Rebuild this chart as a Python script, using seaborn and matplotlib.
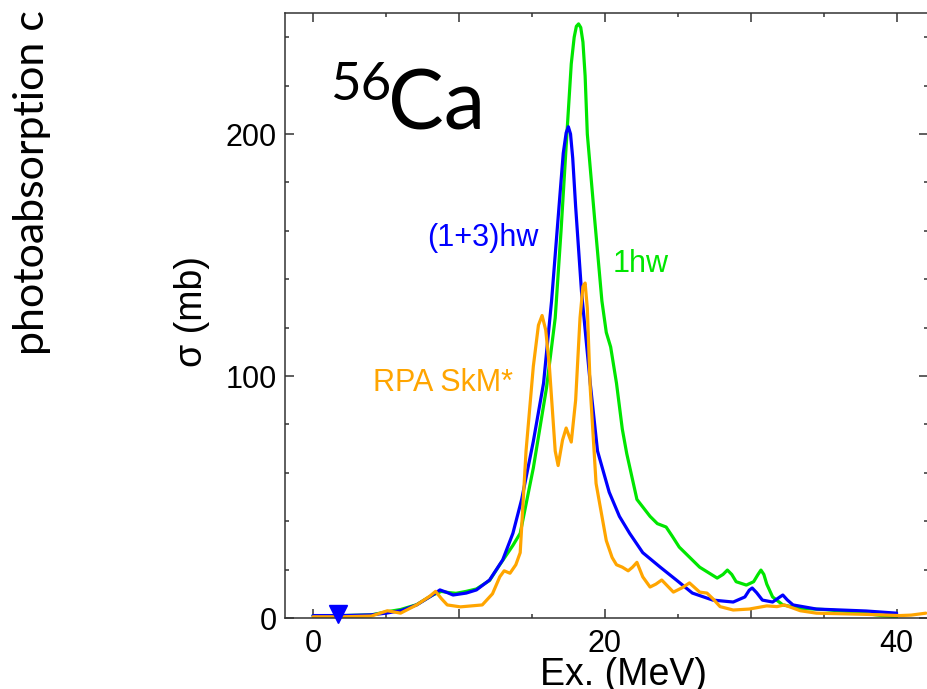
import numpy as np
import pandas as pd
import matplotlib
matplotlib.use("Agg")
import matplotlib.pyplot as plt
import seaborn as sns

# ---- data ----
green_x = [0, 2, 4, 5, 6, 7.1, 8.2, 8.8, 9.3, 9.8, 10.5, 11.2, 12.1, 12.8, 13.7, 14.2, 15.1, 16.0,
           16.6, 17.0, 17.4, 17.7, 17.9, 18.05, 18.2, 18.35, 18.5, 18.65, 18.8, 19.3, 19.8, 20.1, 20.4,
           20.8, 21.2, 21.5, 22.2, 23.1, 23.6, 24.2, 24.6, 25.1, 26.5, 27.7, 28.1, 28.4, 28.7, 29.0,
           29.7, 30.2, 30.5, 30.7, 30.9, 31.1, 31.5, 32.2, 33.4, 35.0, 37.0, 39.0, 40.0]
green_y = [1.0, 1.0, 1.3, 2.5, 3.5, 5.5, 9.5, 11.0, 10.5, 10.2, 11.0, 12.0, 15.5, 22.0, 30.0, 35.0, 62.0, 95.0,
           124.0, 160.0, 200.0, 229.0, 240.0, 244.5, 245.5, 244.0, 238.0, 224.0, 200.0, 165.0, 131.0, 118.0, 112.0,
           97.0, 78.0, 68.0, 49.0, 42.0, 39.0, 37.6, 34.0, 29.3, 21.0, 16.5, 18.0, 19.8, 18.0, 15.0,
           13.6, 15.0, 18.0, 19.8, 18.0, 14.0, 8.7, 5.4, 4.0, 3.5, 2.5, 1.0, 0.5]

blue_x = [0, 2, 4, 5, 6, 7.1, 8.2, 8.7, 9.2, 9.6, 10.5, 11.2, 12.1, 13.0, 13.7, 14.3, 15.1, 15.8,
          16.35, 16.9, 17.15, 17.35, 17.5, 17.65, 17.8, 18.0, 18.4, 19.0, 19.5, 20.3, 21.0, 21.7, 22.6,
          23.8, 24.9, 26.0, 27.4, 28.8, 29.6, 29.9, 30.1, 30.4, 30.8, 31.5, 32.0, 32.2, 32.5, 32.9,
          34.5, 37.9, 40.0]
blue_y = [1.0, 1.0, 1.3, 2.0, 3.0, 5.4, 9.5, 11.6, 10.5, 9.5, 10.3, 11.6, 15.7, 24.0, 35.0, 49.0, 73.0, 97.0,
          131.0, 173.0, 192.0, 200.5, 203.0, 200.0, 190.0, 170.0, 135.0, 97.0, 69.0, 52.0, 42.0, 35.0, 27.0,
          21.0, 15.7, 10.3, 7.4, 6.6, 8.7, 11.5, 12.4, 10.5, 7.4, 6.6, 8.7, 9.5, 7.5, 5.4,
          3.7, 2.9, 2.0]

orange_x = [0, 2, 4, 5.1, 6.0, 7.1, 8.0, 8.4, 8.8, 9.2, 10.1, 11.6, 12.3, 12.8, 13.1, 13.5, 13.9, 14.2,
            14.6, 15.1, 15.45, 15.7, 15.95, 16.2, 16.6, 16.8, 17.1, 17.35, 17.7, 18.0, 18.3, 18.5, 18.65,
            18.8, 19.0, 19.4, 20.1, 20.5, 20.8, 21.2, 21.6, 21.9, 22.2, 22.6, 23.1, 23.5, 23.9, 24.7,
            25.3, 25.8, 26.5, 27.0, 27.4, 27.9, 28.8, 29.9, 31.1, 31.8, 32.3, 33.4, 34.5, 37.9, 40.2,
            41.0, 42.0]
orange_y = [0.5, 0.5, 0.8, 3.0, 2.0, 5.4, 9.0, 11.0, 8.0, 5.4, 4.6, 5.4, 10.0, 17.0, 19.5, 18.5, 22.0, 27.0,
            69.0, 104.0, 121.0, 125.0, 119.0, 104.0, 69.0, 63.0, 73.5, 78.5, 72.7, 90.0, 124.0, 137.0, 138.4,
            128.0, 95.0, 55.6, 32.0, 25.0, 22.0, 21.0, 19.5, 21.0, 23.0, 17.0, 12.8, 14.0, 15.7, 10.7,
            12.5, 14.5, 10.7, 10.3, 8.0, 4.7, 3.3, 3.7, 5.0, 4.7, 5.4, 3.0, 2.0, 1.5, 1.0,
            1.2, 2.0]

marker_x = [1.7]
marker_y = [1.65]

x_major = [0, 10, 20, 30, 40]
x_major_labels = ["0", "", "20", "", "40"]
y_major = [0, 100, 200]

series_labels = ["1hw", "(1+3)hw", "RPA SkM*"]
colors = ["#00e600", "#0000ff", "#ffa500"]

# ---- figure ----
sns.set_theme(style="ticks")
plt.rcParams["font.family"] = ["Liberation Sans", "DejaVu Sans"]
plt.rcParams["text.color"] = "black"
plt.rcParams["axes.labelcolor"] = "black"

W, H = 927, 689
fig = plt.figure(figsize=(W / 100, H / 100), dpi=100)
ax = fig.add_axes([285 / W, (H - 618) / H, 643 / W, 605 / H])

frames = []
for name, xs, ys in [(series_labels[0], green_x, green_y),
                     (series_labels[1], blue_x, blue_y),
                     (series_labels[2], orange_x, orange_y)]:
    frames.append(pd.DataFrame({"E": xs, "sigma": ys, "model": name}))
df = pd.concat(frames, ignore_index=True)

for name, col in zip(series_labels, colors):
    sub = df[df["model"] == name]
    sns.lineplot(data=sub, x="E", y="sigma", color=col, lw=2.3, ax=ax,
                 sort=False, estimator=None, legend=False)

ax.plot(marker_x, marker_y, marker="v", color="#0000ff", ms=13, ls="none", clip_on=False, zorder=5)

ax.set_xlim(-1.92, 42.15)
ax.set_ylim(0, 250)

ax.set_xticks(x_major)
ax.set_xticklabels(x_major_labels)
ax.set_xticks(np.arange(0, 45, 5), minor=True)
ax.set_yticks(y_major)
ax.set_yticks(np.arange(0, 260, 20), minor=True)

for s in ax.spines.values():
    s.set_color("#333333")
    s.set_linewidth(1.1)

ax.tick_params(which="both", direction="in", top=True, right=True, color="#333333", width=1.1,
               labelcolor="black")
ax.tick_params(which="major", length=6.5, labelsize=22)
ax.tick_params(axis="x", which="major", pad=8)
ax.tick_params(axis="y", which="major", pad=6)
ax.tick_params(which="minor", length=3)

ax.set_xlabel("Ex. (MeV)", fontsize=27, color="black")
ax.set_ylabel("σ (mb)", fontsize=27, color="black")
ax.xaxis.set_label_coords((623 - 285) / 643, -0.064)
ax.yaxis.set_label_coords((210 - 285) / 643, (618 - 312) / 605)

ax.text((483 - 285) / 643, (618 - 238) / 605, series_labels[1], color=colors[1], fontsize=22,
        transform=ax.transAxes, ha="center", va="center")
ax.text((641 - 285) / 643, (618 - 264) / 605, series_labels[0], color=colors[0], fontsize=22,
        transform=ax.transAxes, ha="center", va="center")
ax.text((443 - 285) / 643, (618 - 383) / 605, series_labels[2], color=colors[2], fontsize=22,
        transform=ax.transAxes, ha="center", va="center")

fig.text(330 / W, (H - 100) / H, "56", fontsize=38, family=["Lato", "DejaVu Sans"],
         ha="left", va="baseline", color="black")
fig.text(388 / W, (H - 130) / H, "Ca", fontsize=60, family=["Lato", "DejaVu Sans"],
         ha="left", va="baseline", color="black")

fig.text(32 / W, (H - 355) / H, "photoabsorption c", fontsize=31, family=["Lato", "DejaVu Sans"],
         rotation=90, ha="center", va="bottom", color="black")

fig.savefig("out.png", dpi=100)
